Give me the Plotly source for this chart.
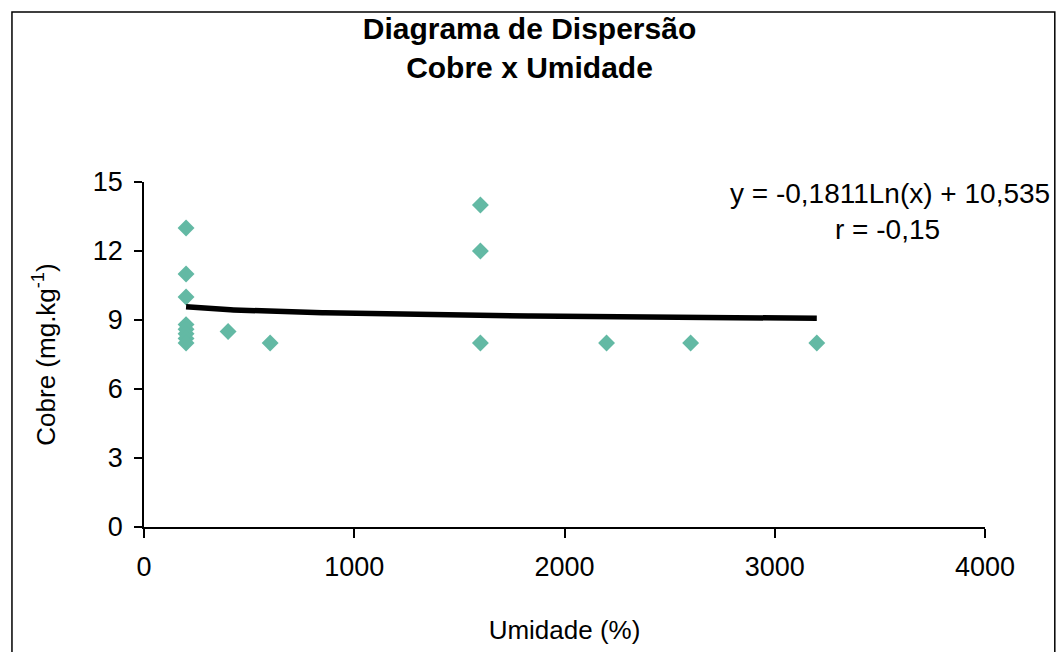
import numpy as np
import plotly.graph_objects as go

umidade = [200, 200, 200, 200, 200, 200, 200, 200, 400, 600, 1600, 1600, 1600, 2200, 2600, 3200]
cobre = [13, 11, 10, 8.8, 8.6, 8.4, 8.2, 8.0, 8.5, 8.0, 14, 12, 8, 8, 8, 8]

coef_a = -0.1811
coef_b = 10.535
trend_x = np.linspace(200, 3200, 200)
trend_y = coef_a * np.log(trend_x) + coef_b

x_ticks = [0, 1000, 2000, 3000, 4000]
y_ticks = [0, 3, 6, 9, 12, 15]

fig = go.Figure()
fig.add_trace(go.Scatter(x=umidade, y=cobre, mode="markers",
                         marker=dict(symbol="diamond", size=13, color="#63B9A4"),
                         showlegend=False))
fig.add_trace(go.Scatter(x=trend_x, y=trend_y, mode="lines",
                         line=dict(color="black", width=5.5), showlegend=False))

font = dict(family="Liberation Sans, Arial, sans-serif", color="black")
fig.update_layout(
    width=1059, height=652,
    margin=dict(l=144, r=74, t=182, b=125),
    paper_bgcolor="white", plot_bgcolor="white",
    font=dict(**font, size=26),
    title=dict(text="<b>Diagrama de Dispersão<br>Cobre x Umidade</b>",
               x=0.5, xanchor="center", y=0.94, yanchor="top",
               font=dict(**font, size=30)),
    xaxis=dict(range=[0, 4000], tickvals=x_ticks, showgrid=False, zeroline=False,
               showline=True, linecolor="black", linewidth=1.5,
               ticks="outside", ticklen=9, tickcolor="black", tickwidth=1.5,
               tickfont=dict(**font, size=27), ticklabelstandoff=6,
               title=dict(text="Umidade (%)", standoff=40, font=dict(**font, size=26))),
    yaxis=dict(range=[0, 15], tickvals=y_ticks, showgrid=False, zeroline=False,
               showline=True, linecolor="black", linewidth=1.5,
               ticks="outside", ticklen=8, tickcolor="black", tickwidth=1.5,
               tickfont=dict(**font, size=27), ticklabelstandoff=6,
               title=dict(text="Cobre (mg.kg<sup>-1</sup>)", standoff=30, font=dict(**font, size=26))),
    shapes=[dict(type="rect", xref="paper", yref="paper", x0=-0.157, x1=1.083, y0=-0.4, y1=1.493,
                 line=dict(color="black", width=1.5))],
)
fig.add_annotation(text="y = -0,1811Ln(x) + 10,535", xref="paper", yref="paper",
                   x=1.0797, y=0.968, xanchor="right", yanchor="middle", showarrow=False,
                   font=dict(**font, size=28))
fig.add_annotation(text="r = -0,15", xref="paper", yref="paper",
                   x=0.8835, y=0.861, xanchor="center", yanchor="middle", showarrow=False,
                   font=dict(**font, size=28))

fig.write_html("out.html")
